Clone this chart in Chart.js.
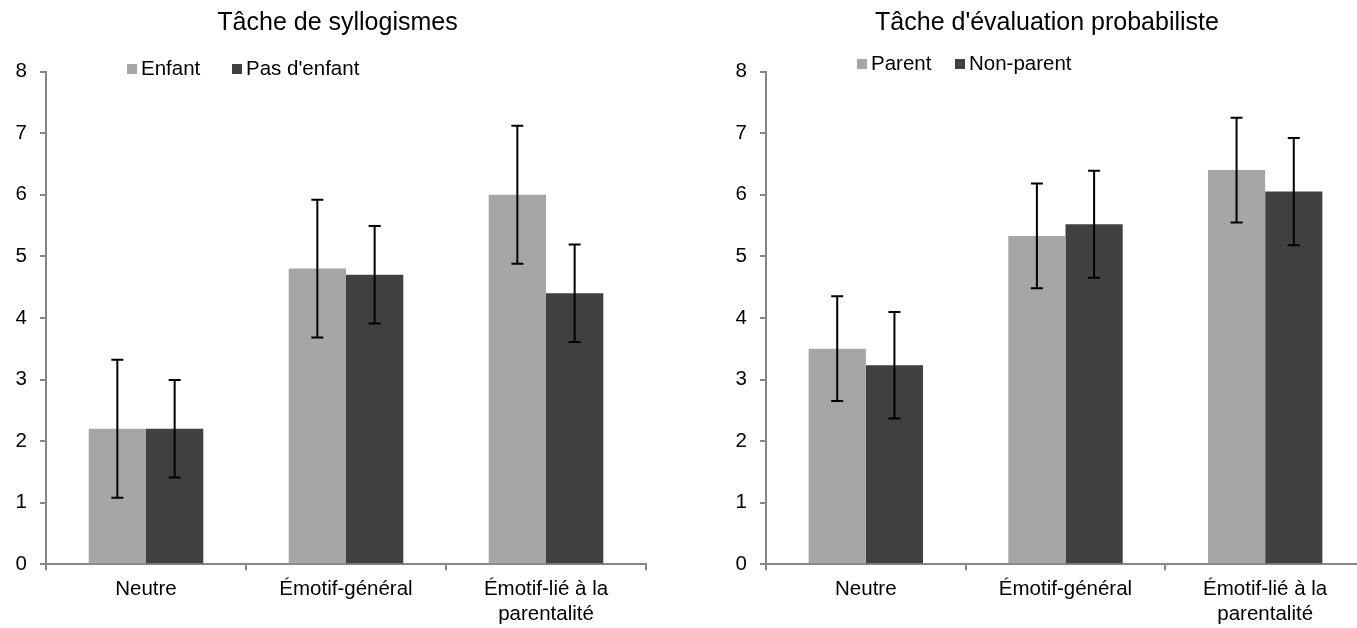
<!DOCTYPE html>
<html lang="fr">
<head>
<meta charset="utf-8">
<title>Tâche de syllogismes / Tâche d'évaluation probabiliste</title>
<script src="https://cdn.jsdelivr.net/npm/chart.js@4.4.1/dist/chart.umd.min.js"></script>
<style>
  html, body { margin: 0; padding: 0; background: #fff; overflow: hidden; }
  body { width: 1357px; height: 628px; position: relative; }
  .panel { position: absolute; top: 0; height: 628px; }
  #leftPanel { left: 0; width: 680px; }
  #rightPanel { left: 680px; width: 700px; }
</style>
</head>
<body>
<div class="panel" id="leftPanel"><canvas id="leftChart" width="680" height="628"></canvas></div>
<div class="panel" id="rightPanel"><canvas id="rightChart" width="700" height="628"></canvas></div>
<script>
// categories (same for both tasks)
const categories = ["Neutre", "Émotif-général", ["Émotif-lié à la", "parentalité"]];
const yTicks = [0, 1, 2, 3, 4, 5, 6, 7, 8];

// Tâche de syllogismes
const enfant = [2.2, 4.8, 6.0];
const enfantErr = [1.12, 1.12, 1.12];
const pasEnfant = [2.2, 4.7, 4.4];
const pasEnfantErr = [0.79, 0.79, 0.79];

// Tâche d'évaluation probabiliste
const parent = [3.5, 5.33, 6.4];
const parentErr = [0.85, 0.85, 0.85];
const nonParent = [3.23, 5.52, 6.05];
const nonParentErr = [0.865, 0.87, 0.87];

const FONT = "'Liberation Sans', Arial, 'Helvetica Neue', sans-serif";
const LIGHT = "#a6a6a6";
const DARK = "#404040";
const AXIS = "#868686";

Chart.defaults.font.family = FONT;
Chart.defaults.color = "#000";

const errorBars = {
  id: "errorBars",
  afterDatasetsDraw(chart) {
    const ctx = chart.ctx;
    const y = chart.scales.y;
    ctx.save();
    ctx.strokeStyle = "#000";
    ctx.lineWidth = 2;
    chart.data.datasets.forEach((ds, i) => {
      const meta = chart.getDatasetMeta(i);
      meta.data.forEach((bar, j) => {
        const v = ds.data[j], e = ds.errors[j];
        const top = y.getPixelForValue(v + e);
        const bot = y.getPixelForValue(v - e);
        ctx.beginPath();
        ctx.moveTo(bar.x, top); ctx.lineTo(bar.x, bot);
        ctx.moveTo(bar.x - 6, top); ctx.lineTo(bar.x + 6, top);
        ctx.moveTo(bar.x - 6, bot); ctx.lineTo(bar.x + 6, bot);
        ctx.stroke();
      });
    });
    ctx.restore();
  }
};

// title is off-centre and the legend sits inside the plot area, so both are drawn by hand
const headText = {
  id: "headText",
  afterDraw(chart, args, opts) {
    const ctx = chart.ctx;
    ctx.save();
    ctx.textBaseline = "middle";
    ctx.fillStyle = "#000";
    ctx.font = "25px " + FONT;
    ctx.textAlign = "center";
    ctx.fillText(opts.title, opts.titleX, 23);

    ctx.font = "20.5px " + FONT;
    ctx.textAlign = "left";
    chart.data.datasets.forEach((ds, i) => {
      const x = opts.xs[i];
      ctx.fillStyle = ds.backgroundColor;
      ctx.fillRect(x, opts.y - 5, 10, 10);
      ctx.fillStyle = "#000";
      ctx.fillText(ds.label, x + 14, opts.y);
    });
    ctx.restore();
  }
};

function makeChart(id, labels, series, padRight, yWidth, head) {
  return new Chart(document.getElementById(id), {
    type: "bar",
    data: {
      labels: categories,
      datasets: series.map((s, i) => ({
        label: labels[i],
        data: s.data,
        errors: s.err,
        backgroundColor: i === 0 ? LIGHT : DARK,
        categoryPercentage: 0.573,
        barPercentage: 1
      }))
    },
    options: {
      responsive: false,
      animation: false,
      devicePixelRatio: 1,
      layout: { padding: { left: 0, right: padRight, top: 71.5, bottom: 0 } },
      plugins: {
        legend: { display: false },
        tooltip: { enabled: false },
        title: { display: false },
        headText: head
      },
      scales: {
        x: {
          grid: { display: true, drawOnChartArea: false, drawTicks: true, tickLength: 6, color: AXIS, lineWidth: 2, offset: true },
          border: { display: true, color: AXIS, width: 2 },
          ticks: { color: "#000", font: { size: 20.5 }, padding: 7, maxRotation: 0, autoSkip: false },
          afterFit(scale) { scale.height = 63.7; }
        },
        y: {
          min: 0,
          max: 8,
          afterBuildTicks(scale) { scale.ticks = yTicks.map(v => ({ value: v })); },
          grid: { display: true, drawOnChartArea: false, drawTicks: true, tickLength: 6, color: AXIS, lineWidth: 2 },
          border: { display: true, color: AXIS, width: 2 },
          ticks: { color: "#000", font: { size: 20.5 }, padding: 13 },
          afterFit(scale) { scale.width = yWidth; }
        }
      }
    },
    plugins: [errorBars, headText]
  });
}

makeChart("leftChart", ["Enfant", "Pas d'enfant"],
  [{ data: enfant, err: enfantErr }, { data: pasEnfant, err: pasEnfantErr }],
  34, 46, { title: "Tâche de syllogismes", titleX: 337.5, xs: [127, 232], y: 69 });

makeChart("rightChart", ["Parent", "Non-parent"],
  [{ data: parent, err: parentErr }, { data: nonParent, err: nonParentErr }],
  15, 86, { title: "Tâche d'évaluation probabiliste", titleX: 367, xs: [177, 275], y: 64 });
</script>
</body>
</html>
